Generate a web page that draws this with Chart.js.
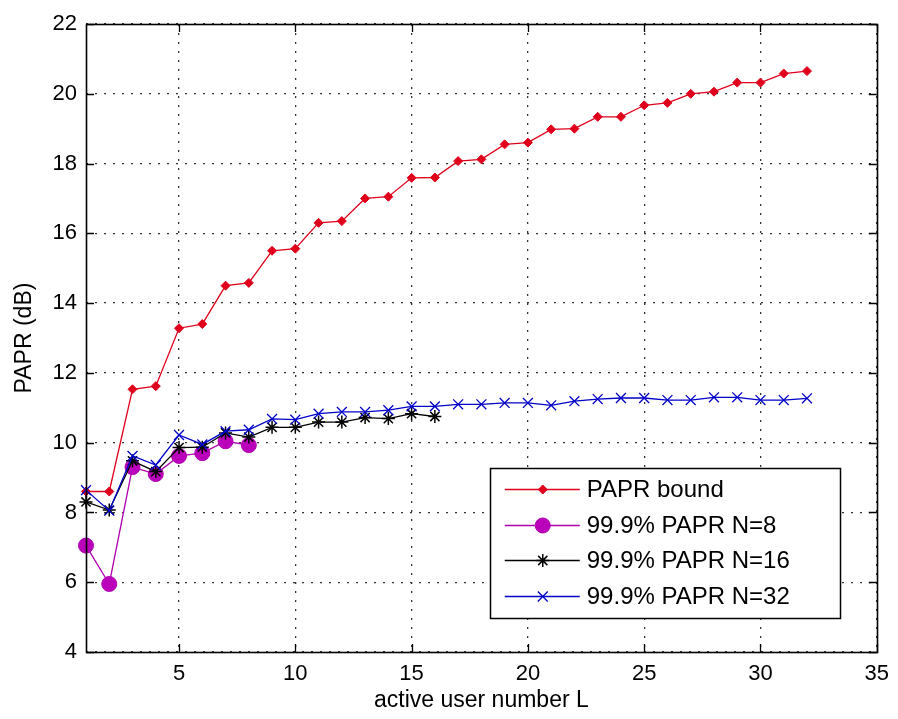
<!DOCTYPE html>
<html>
<head>
<meta charset="utf-8">
<script src="https://cdn.jsdelivr.net/npm/chart.js@4.4.1/dist/chart.umd.min.js"></script>
<style>
  html, body { margin: 0; padding: 0; background: #fff; }
  canvas { display: block; }
</style>
</head>
<body>
<canvas id="papr" width="898" height="719"></canvas>
<script>
// active user number L
const USERS = [1, 2, 3, 4, 5, 6, 7, 8, 9, 10, 11, 12, 13, 14, 15, 16,
  17, 18, 19, 20, 21, 22, 23, 24, 25, 26, 27, 28, 29, 30, 31, 32];

const PAPR_BOUND = [8.6, 8.6, 11.53, 11.62, 13.28, 13.4, 14.5, 14.58, 15.5, 15.56, 16.3, 16.35,
  17.0, 17.05, 17.59, 17.6, 18.07, 18.12, 18.55, 18.6, 18.98, 19.0, 19.34, 19.34,
  19.67, 19.74, 20.0, 20.06, 20.32, 20.32, 20.58, 20.65];
const PAPR_N8 = [7.05, 5.95, 9.3, 9.1, 9.62, 9.7, 10.04, 9.93];
const PAPR_N16 = [8.3, 8.07, 9.48, 9.17, 9.86, 9.87, 10.28, 10.16, 10.44, 10.44, 10.59, 10.59,
  10.72, 10.69, 10.83, 10.75];
const PAPR_N32 = [8.64, 8.05, 9.62, 9.36, 10.22, 9.95, 10.33, 10.37, 10.68, 10.66, 10.83, 10.88,
  10.88, 10.93, 11.04, 11.04, 11.1, 11.1, 11.14, 11.14, 11.07, 11.19, 11.25, 11.28,
  11.28, 11.22, 11.22, 11.3, 11.3, 11.22, 11.22, 11.27];

const SERIES_LABELS = ['PAPR bound', '99.9% PAPR N=8', '99.9% PAPR N=16', '99.9% PAPR N=32'];
const X_TICKS = [5, 10, 15, 20, 25, 30, 35];
const Y_TICKS = [4, 6, 8, 10, 12, 14, 16, 18, 20, 22];
const X_TITLE = 'active user number L';
const Y_TITLE = 'PAPR (dB)';

const FAMILY = '"Liberation Sans", Arial, sans-serif';
const TICK_FONT = { family: FAMILY, size: 22 };
const TITLE_FONT = { family: FAMILY, size: 23 };
const LEGEND_FONT = `24px ${FAMILY}`;

const pts = (ys) => ys.map((y, i) => ({ x: USERS[i], y }));

// matlab style: ticks pointing inward on all four sides + black box
const axesBox = {
  id: 'axesBox',
  afterDatasetsDraw(chart) {
    const { ctx, chartArea: a, scales } = chart;
    const len = 8;
    ctx.save();
    ctx.strokeStyle = '#000';
    ctx.lineWidth = 1.3;
    ctx.beginPath();
    scales.x.ticks.forEach(t => {
      const px = Math.round(scales.x.getPixelForValue(t.value)) + 0.5;
      ctx.moveTo(px, a.bottom); ctx.lineTo(px, a.bottom - len);
      ctx.moveTo(px, a.top); ctx.lineTo(px, a.top + len);
    });
    scales.y.ticks.forEach(t => {
      const py = Math.round(scales.y.getPixelForValue(t.value)) + 0.5;
      ctx.moveTo(a.left, py); ctx.lineTo(a.left + len, py);
      ctx.moveTo(a.right, py); ctx.lineTo(a.right - len, py);
    });
    ctx.stroke();
    ctx.lineWidth = 1.6;
    ctx.strokeRect(Math.round(a.left) + 0.5, Math.round(a.top) + 0.5,
      Math.round(a.right - a.left), Math.round(a.bottom - a.top));
    ctx.restore();
  }
};

const legendBox = {
  id: 'legendBox',
  afterDraw(chart) {
    const { ctx, chartArea: a } = chart;
    const sets = chart.data.datasets;
    const left = a.right - 387;
    const top = a.bottom - 184;
    const w = 350;
    const h = 150;
    ctx.save();
    ctx.fillStyle = '#fff';
    ctx.fillRect(left, top, w, h);
    ctx.strokeStyle = '#000';
    ctx.lineWidth = 1.5;
    ctx.strokeRect(Math.round(left) + 0.5, Math.round(top) + 0.5, w, h);

    ctx.font = LEGEND_FONT;
    sets.forEach((d, i) => {
      const y = Math.round(top + 21 + i * 35.5) + 0.5;
      ctx.strokeStyle = d.borderColor;
      ctx.lineWidth = d.borderWidth;
      ctx.beginPath();
      ctx.moveTo(left + 15, y);
      ctx.lineTo(left + 90, y);
      ctx.stroke();
      ctx.fillStyle = d.pointBackgroundColor;
      ctx.strokeStyle = d.pointBorderColor;
      ctx.lineWidth = d.pointBorderWidth;
      Chart.helpers.drawPoint(ctx, {
        pointStyle: d.pointStyle, radius: d.pointRadius, rotation: 0, borderWidth: d.pointBorderWidth
      }, left + 53, y);
      ctx.fillStyle = '#000';
      ctx.textBaseline = 'middle';
      ctx.textAlign = 'left';
      ctx.fillText(d.label, left + 97, y + 1);
    });
    ctx.restore();
  }
};

new Chart(document.getElementById('papr'), {
  type: 'line',
  data: {
    datasets: [
      {
        label: SERIES_LABELS[0], data: pts(PAPR_BOUND), order: 4,
        borderColor: '#e0001b', borderWidth: 1.3,
        pointStyle: 'rectRot', pointRadius: 4.5,
        pointBackgroundColor: '#e0001b', pointBorderColor: '#e0001b', pointBorderWidth: 1
      },
      {
        label: SERIES_LABELS[1], data: pts(PAPR_N8), order: 3,
        borderColor: '#b000b0', borderWidth: 1.3,
        pointStyle: 'circle', pointRadius: 7.5,
        pointBackgroundColor: '#bb00bb', pointBorderColor: '#b000b0', pointBorderWidth: 1
      },
      {
        label: SERIES_LABELS[2], data: pts(PAPR_N16), order: 2,
        borderColor: '#000', borderWidth: 1.3,
        pointStyle: 'star', pointRadius: 6.5,
        pointBackgroundColor: '#000', pointBorderColor: '#000', pointBorderWidth: 1.5
      },
      {
        label: SERIES_LABELS[3], data: pts(PAPR_N32), order: 1,
        borderColor: '#0000c8', borderWidth: 1.3,
        pointStyle: 'crossRot', pointRadius: 7,
        pointBackgroundColor: '#0000c8', pointBorderColor: '#0000c8', pointBorderWidth: 1.3
      }
    ].map(d => Object.assign(d, { fill: false, tension: 0, clip: false, pointHoverRadius: d.pointRadius }))
  },
  options: {
    responsive: false,
    animation: false,
    events: [],
    layout: { padding: { top: 24, right: 18, left: 0, bottom: 0 } },
    scales: {
      x: {
        type: 'linear',
        min: 1,
        max: 35,
        afterBuildTicks: (s) => { s.ticks = X_TICKS.map(v => ({ value: v })); },
        afterFit: (s) => { s.height = 67; },
        ticks: { color: '#000', font: TICK_FONT, padding: 9, maxRotation: 0, autoSkip: false },
        grid: { color: '#333', lineWidth: 1.3, drawTicks: false },
        border: { display: false, dash: [2, 7] },
        title: { display: true, text: X_TITLE, color: '#000', font: TITLE_FONT, padding: { top: 0, bottom: 5 } }
      },
      y: {
        min: 4,
        max: 22,
        afterBuildTicks: (s) => { s.ticks = Y_TICKS.map(v => ({ value: v })); },
        afterFit: (s) => { s.width = 86; },
        ticks: { color: '#000', font: TICK_FONT, padding: 9 },
        grid: { color: '#333', lineWidth: 1.3, drawTicks: false },
        border: { display: false, dash: [2, 7] },
        title: { display: true, text: Y_TITLE, color: '#000', font: TITLE_FONT, padding: { top: 11, bottom: 0 } }
      }
    },
    plugins: {
      legend: { display: false },
      tooltip: { enabled: false }
    }
  },
  plugins: [axesBox, legendBox]
});
</script>
</body>
</html>
